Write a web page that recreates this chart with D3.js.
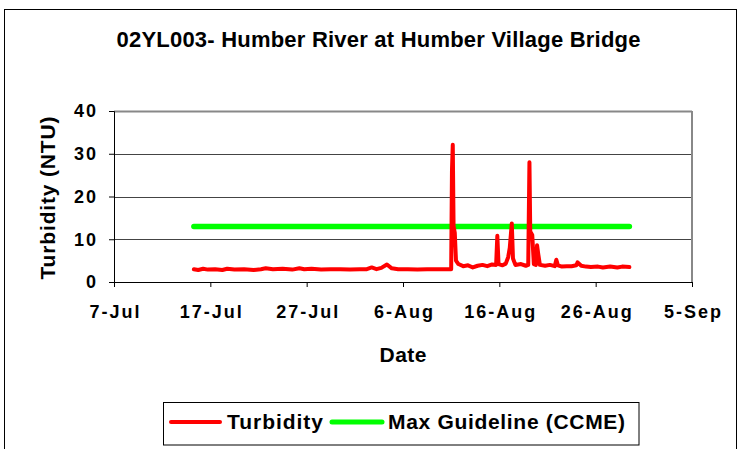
<!DOCTYPE html>
<html><head><meta charset="utf-8">
<script src="https://cdn.jsdelivr.net/npm/d3@7"></script>
<style>
html,body{margin:0;padding:0;background:#fff;}
svg{display:block;}
text{font-family:"Liberation Sans",Arial,sans-serif;font-weight:bold;fill:#000;}
</style></head>
<body>
<svg id="chart" width="747" height="449"></svg>
<script>
// ---- data ----
const chartTitle = "02YL003- Humber River at Humber Village Bridge";
const yTickValues = [0, 10, 20, 30, 40];
const xTickDates = ["2009-07-07","2009-07-17","2009-07-27","2009-08-06","2009-08-16","2009-08-26","2009-09-05"];
const turbidityTimes = [
 "2009-07-15T07:00","2009-07-15T18:00","2009-07-16T06:00","2009-07-16T18:00","2009-07-17T12:00",
 "2009-07-18T06:00","2009-07-18T18:00","2009-07-19T12:00","2009-07-20T12:00","2009-07-21T12:00",
 "2009-07-22T06:00","2009-07-22T18:00","2009-07-23T12:00","2009-07-24T12:00","2009-07-25T12:00",
 "2009-07-26T06:00","2009-07-26T18:00","2009-07-27T12:00","2009-07-28T12:00","2009-07-29T12:00",
 "2009-07-30T12:00","2009-07-31T12:00","2009-08-01T12:00","2009-08-02T06:00","2009-08-02T18:00",
 "2009-08-03T06:00","2009-08-03T18:00","2009-08-04T08:00","2009-08-04T20:00","2009-08-05T12:00",
 "2009-08-06T12:00","2009-08-07T12:00","2009-08-08T12:00","2009-08-09T12:00","2009-08-10T12:00",
 "2009-08-11T00:00","2009-08-11T02:00","2009-08-11T04:00","2009-08-11T06:00","2009-08-11T09:00",
 "2009-08-11T12:00","2009-08-11T18:00","2009-08-12T06:00","2009-08-12T18:00","2009-08-13T06:00",
 "2009-08-13T18:00","2009-08-14T06:00","2009-08-14T18:00","2009-08-15T06:00","2009-08-15T16:00",
 "2009-08-15T19:00","2009-08-15T22:00","2009-08-16T08:00","2009-08-16T16:00","2009-08-16T22:00",
 "2009-08-17T02:00","2009-08-17T07:00","2009-08-17T10:00","2009-08-17T16:00","2009-08-18T06:00",
 "2009-08-18T18:00","2009-08-19T00:00","2009-08-19T03:00","2009-08-19T05:00","2009-08-19T10:00",
 "2009-08-19T14:00","2009-08-19T19:00","2009-08-19T22:00","2009-08-20T01:00","2009-08-20T05:00",
 "2009-08-20T18:00","2009-08-21T06:00","2009-08-21T18:00","2009-08-21T22:00","2009-08-22T02:00",
 "2009-08-22T12:00","2009-08-23T00:00","2009-08-23T12:00","2009-08-24T00:00","2009-08-24T03:00",
 "2009-08-24T12:00","2009-08-25T00:00","2009-08-25T12:00","2009-08-26T06:00","2009-08-26T18:00",
 "2009-08-27T12:00","2009-08-28T06:00","2009-08-28T18:00","2009-08-29T12:00"
];
const turbidityValues = [
 3.0,2.8,3.1,2.9,3.0,
 2.8,3.1,2.9,3.0,2.8,
 3.0,3.2,3.0,3.1,2.9,
 3.2,3.0,3.1,2.9,3.0,
 3.0,2.9,3.0,3.0,3.4,
 3.0,3.3,4.1,3.2,3.0,
 3.0,2.9,3.0,3.0,3.0,
 3.0,26.0,32.1,13.0,11.5,
 5.0,4.2,3.7,3.9,3.4,
 3.8,4.0,3.7,4.1,4.0,
 10.8,4.2,3.9,4.3,5.8,
 8.0,13.7,5.5,4.0,4.2,
 3.8,4.0,28.0,11.8,11.0,
 4.2,4.0,8.6,6.5,4.0,
 3.8,4.0,3.7,5.2,3.9,
 3.6,3.7,3.7,3.9,4.6,
 3.8,3.6,3.5,3.6,3.4,
 3.6,3.4,3.6,3.5
];
const guidelineTimes = ["2009-07-15T07:00","2009-08-29T12:00"];
const guidelineValues = [13, 13];
const seriesNames = ["Turbidity", "Max Guideline (CCME)"];
const seriesColors = ["#ff0000", "#00ff00"];

// ---- layout ----
const svg = d3.select("#chart");
const parse = d3.isoParse;
const m = {left:114, right:692, top:111, bottom:282};
const x = d3.scaleTime().domain([parse(xTickDates[0]), parse(xTickDates[xTickDates.length-1])]).range([m.left, m.right]);
const y = d3.scaleLinear().domain([0, 40]).range([m.bottom, m.top]);

// outer frame
svg.append("rect").attr("x",4.5).attr("y",9.5).attr("width",732).attr("height",460)
  .attr("fill","none").attr("stroke","#000").attr("stroke-width",1);

// title
svg.append("text").attr("x",116.5).attr("y",47).attr("font-size",22)
  .attr("textLength",524).attr("lengthAdjust","spacing").text(chartTitle);

// grid
svg.append("g").selectAll("line").data(yTickValues.filter(v=>v>0)).join("line")
  .attr("x1",m.left).attr("x2",m.right).attr("y1",d=>Math.round(y(d))+0.5).attr("y2",d=>Math.round(y(d))+0.5)
  .attr("stroke",d=>d===40?"#888":"#444").attr("stroke-width",d=>d===40?2:1);
// right border of plot
svg.append("line").attr("x1",m.right).attr("x2",m.right).attr("y1",m.top).attr("y2",m.bottom)
  .attr("stroke","#888").attr("stroke-width",2);

// y axis
const yAxis = svg.append("g").attr("transform",`translate(${m.left},0)`)
  .call(d3.axisLeft(y).tickValues(yTickValues).tickSize(5).tickPadding(11).tickFormat(d3.format("d")));
yAxis.select(".domain").attr("stroke","#000");
yAxis.selectAll("text").attr("font-size",18).attr("font-family",null).style("letter-spacing","2px");

// x axis
const xAxis = svg.append("g").attr("transform",`translate(0,${m.bottom})`)
  .call(d3.axisBottom(x).tickValues(xTickDates.map(parse)).tickSize(5).tickPadding(18).tickFormat(d3.timeFormat("%-d-%b")));
xAxis.select(".domain").attr("stroke","#000");
xAxis.selectAll("text").attr("font-size",18).attr("font-family",null).style("letter-spacing","2px").attr("dx","1px");
svg.selectAll(".tick line").attr("stroke","#000");

// axis titles
svg.append("text").attr("x",403).attr("y",362).attr("text-anchor","middle").attr("font-size",21)
  .attr("textLength",47).attr("lengthAdjust","spacing").text("Date");
svg.append("text").attr("transform","translate(55,198) rotate(-90)").attr("text-anchor","middle").attr("font-size",21)
  .attr("textLength",163).attr("lengthAdjust","spacing").text("Turbidity (NTU)");

// lines
const line = d3.line().x(d=>x(d.t)).y(d=>y(d.v));
const turb = turbidityTimes.map((t,i)=>({t:parse(t), v:turbidityValues[i]}));
const guide = guidelineTimes.map((t,i)=>({t:parse(t), v:guidelineValues[i]}));
svg.append("path").datum(guide).attr("d",line).attr("fill","none").attr("stroke",seriesColors[1])
  .attr("stroke-width",5.5).attr("stroke-linecap","round");
svg.append("path").datum(turb).attr("d",line).attr("fill","none").attr("stroke",seriesColors[0])
  .attr("stroke-width",4).attr("stroke-linejoin","round").attr("stroke-linecap","round");

// legend
const lg = svg.append("g");
lg.append("rect").attr("x",163.5).attr("y",402.5).attr("width",475.5).attr("height",42.5)
  .attr("fill","#fff").attr("stroke","#000").attr("stroke-width",1);
lg.append("line").attr("x1",171).attr("x2",220).attr("y1",422).attr("y2",422)
  .attr("stroke",seriesColors[0]).attr("stroke-width",4).attr("stroke-linecap","round");
lg.append("text").attr("x",227).attr("y",429).attr("font-size",21)
  .attr("textLength",96).attr("lengthAdjust","spacing").text(seriesNames[0]);
lg.append("line").attr("x1",332).attr("x2",382).attr("y1",422).attr("y2",422)
  .attr("stroke",seriesColors[1]).attr("stroke-width",5).attr("stroke-linecap","round");
lg.append("text").attr("x",388).attr("y",429).attr("font-size",21)
  .attr("textLength",237).attr("lengthAdjust","spacing").text(seriesNames[1]);
</script>
</body></html>
